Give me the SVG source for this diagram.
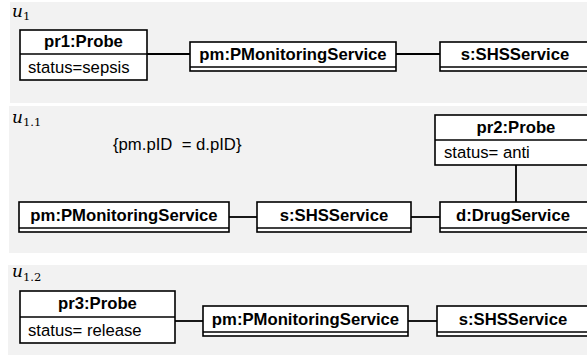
<svg xmlns="http://www.w3.org/2000/svg" width="587" height="356" viewBox="0 0 587 356">
  <style>
    .panel { fill: #f2f2f2; }
    .box { fill: #ffffff; stroke: #000000; stroke-width: 1.6; }
    .sep { stroke: #000000; stroke-width: 1.6; }
    .link { stroke: #000000; stroke-width: 1.8; fill: none; }
    .name { font-family: "Liberation Sans", Arial, sans-serif; font-size: 16.7px; font-weight: bold; text-anchor: middle; fill: #000; }
    .attr { font-family: "Liberation Sans", Arial, sans-serif; font-size: 16.7px; fill: #000; }
    .note { font-family: "Liberation Sans", Arial, sans-serif; font-size: 16.7px; fill: #000; white-space: pre; }
    .var { font-family: "DejaVu Serif", "Liberation Serif", serif; font-size: 17px; font-style: italic; fill: #000; }
    .sub { font-family: "DejaVu Serif", "Liberation Serif", serif; font-size: 11.5px; font-style: normal; fill: #000; }
  </style>

  <!-- scenario backgrounds -->
  <rect class="panel" x="10" y="2" width="577" height="101"/>
  <rect class="panel" x="9" y="106" width="578" height="147"/>
  <rect class="panel" x="8" y="265" width="579" height="90"/>

  <!-- scenario labels -->
  <text class="var" x="12" y="17">u<tspan class="sub" dy="3">1</tspan></text>
  <text class="var" x="12" y="123">u<tspan class="sub" dy="3">1.1</tspan></text>
  <text class="var" x="12" y="277">u<tspan class="sub" dy="4">1.2</tspan></text>

  <!-- constraint -->
  <text class="note" x="113" y="150">{pm.pID  = d.pID}</text>

  <!-- connectors -->
  <g id="connectors">
    <line class="link" x1="147" y1="54" x2="190" y2="54"/>
    <line class="link" x1="396" y1="54" x2="440" y2="54"/>
    <line class="link" x1="229" y1="217" x2="257" y2="217"/>
    <line class="link" x1="411" y1="217" x2="440" y2="217"/>
    <line class="link" x1="516" y1="165" x2="516" y2="202"/>
    <line class="link" x1="175" y1="321" x2="203" y2="321"/>
    <line class="link" x1="408" y1="321" x2="437" y2="321"/>
  </g>

  <!-- scenario u1 -->
  <g id="u1-pr1">
    <rect class="box" x="20" y="30" width="127" height="50"/>
    <line class="sep" x1="20" y1="54" x2="147" y2="54"/>
    <text class="name" x="83.5" y="47">pr1:Probe</text>
    <text class="attr" x="28" y="73">status=sepsis</text>
  </g>
  <g id="u1-pm">
    <rect class="box" x="190" y="42" width="206" height="29"/>
    <line class="sep" x1="190" y1="67" x2="396" y2="67"/>
    <text class="name" x="293" y="60">pm:PMonitoringService</text>
  </g>
  <g id="u1-s">
    <rect class="box" x="440" y="42" width="150" height="29"/>
    <line class="sep" x1="440" y1="67" x2="590" y2="67"/>
    <text class="name" x="515" y="60">s:SHSService</text>
  </g>

  <!-- scenario u1.1 -->
  <g id="u11-pr2">
    <rect class="box" x="435" y="115" width="155" height="50"/>
    <line class="sep" x1="435" y1="140" x2="590" y2="140"/>
    <text class="name" x="516" y="133">pr2:Probe</text>
    <text class="attr" x="444" y="158">status= anti</text>
  </g>
  <g id="u11-pm">
    <rect class="box" x="19" y="202" width="210" height="30"/>
    <line class="sep" x1="19" y1="228" x2="229" y2="228"/>
    <text class="name" x="124" y="221">pm:PMonitoringService</text>
  </g>
  <g id="u11-s">
    <rect class="box" x="257" y="202" width="154" height="30"/>
    <line class="sep" x1="257" y1="228" x2="411" y2="228"/>
    <text class="name" x="334" y="221">s:SHSService</text>
  </g>
  <g id="u11-d">
    <rect class="box" x="440" y="202" width="150" height="30"/>
    <line class="sep" x1="440" y1="228" x2="590" y2="228"/>
    <text class="name" x="513" y="221">d:DrugService</text>
  </g>

  <!-- scenario u1.2 -->
  <g id="u12-pr3">
    <rect class="box" x="20" y="291" width="155" height="52"/>
    <line class="sep" x1="20" y1="317" x2="175" y2="317"/>
    <text class="name" x="97.5" y="309">pr3:Probe</text>
    <text class="attr" x="28" y="336">status= release</text>
  </g>
  <g id="u12-pm">
    <rect class="box" x="203" y="306" width="205" height="30"/>
    <line class="sep" x1="203" y1="332" x2="408" y2="332"/>
    <text class="name" x="305.5" y="325">pm:PMonitoringService</text>
  </g>
  <g id="u12-s">
    <rect class="box" x="437" y="306" width="153" height="30"/>
    <line class="sep" x1="437" y1="332" x2="590" y2="332"/>
    <text class="name" x="513" y="325">s:SHSService</text>
  </g>
</svg>
